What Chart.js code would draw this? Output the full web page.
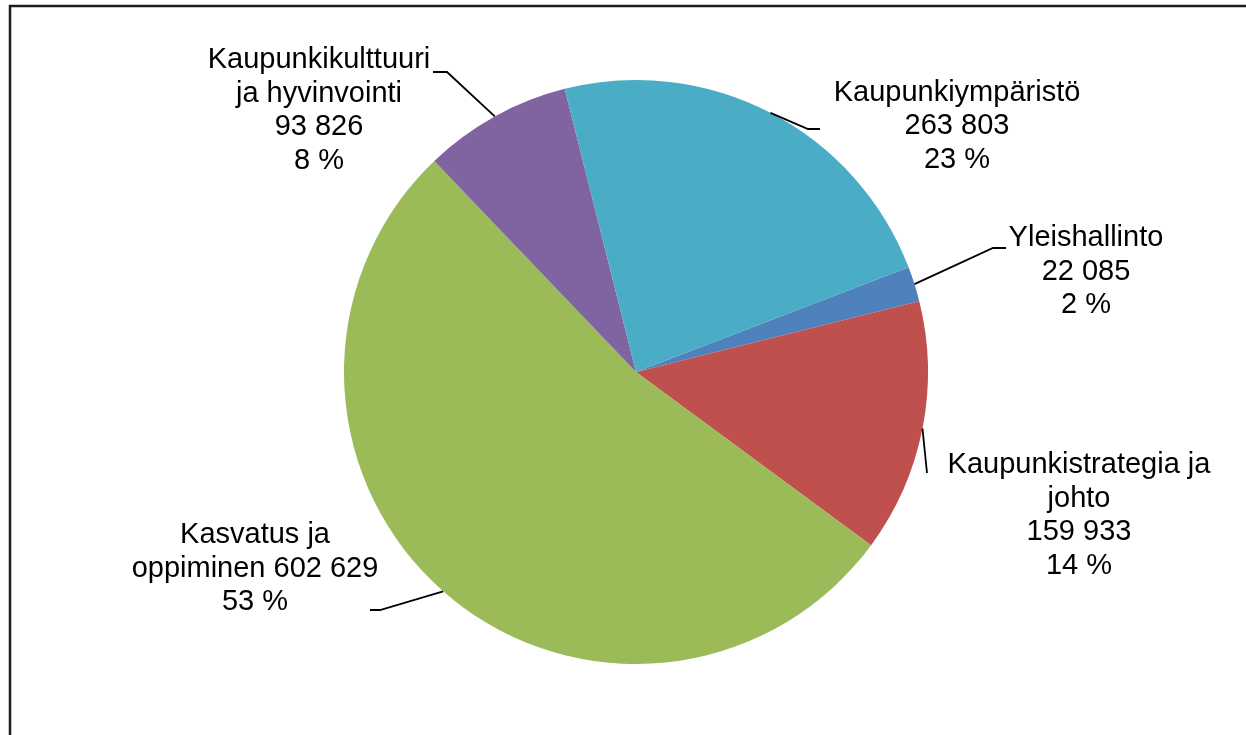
<!DOCTYPE html>
<html>
<head>
<meta charset="utf-8">
<script src="https://cdn.jsdelivr.net/npm/chart.js@4.4.1/dist/chart.umd.min.js"></script>
<style>
  html, body { margin: 0; padding: 0; background: #ffffff; }
  canvas { display: block; }
</style>
</head>
<body>
<canvas id="c" width="1246" height="735"></canvas>
<script>
// ---- Data ----
const categories = [
  'Yleishallinto',
  'Kaupunkistrategia ja johto',
  'Kasvatus ja oppiminen',
  'Kaupunkikulttuuri ja hyvinvointi',
  'Kaupunkiympäristö'
];
const values = [22085, 159933, 602629, 93826, 263803];
const colors = ['#4F81BD', '#C0504D', '#9BBB59', '#8064A2', '#4BACC6'];

// ---- Label layout (positions/styles only) ----
// breakAfter: word index after which the name wraps; joinValue: value on the last name line
const labelLayout = [
  { cx: 1086, cy: 238, breakAfter: null, joinValue: false, elbow: [993, 248], end: [1006, 248] },
  { cx: 1079, cy: 465, breakAfter: 2, joinValue: false, elbow: [927, 473], end: null },
  { cx: 255, cy: 535, breakAfter: 2, joinValue: true, elbow: [380, 610], end: [370, 610] },
  { cx: 319, cy: 60, breakAfter: 1, joinValue: false, elbow: [447, 72], end: [433, 72] },
  { cx: 957, cy: 92.5, breakAfter: null, joinValue: false, elbow: [808, 129], end: [820, 129] }
];
const FONT = '29px "Liberation Sans", Arial, sans-serif';
const LINE_H = 33.5;

function fmt(n) { return String(n).replace(/\B(?=(\d{3})+(?!\d))/g, ' '); }

const total = values.reduce((a, b) => a + b, 0);

function buildLines(i) {
  const words = categories[i].split(' ');
  const L = labelLayout[i];
  let nameLines;
  if (L.breakAfter == null) nameLines = [words.join(' ')];
  else nameLines = [words.slice(0, L.breakAfter).join(' '), words.slice(L.breakAfter).join(' ')];
  const valStr = fmt(values[i]);
  const pct = Math.round(values[i] / total * 100) + ' %';
  if (L.joinValue) {
    nameLines[nameLines.length - 1] += ' ' + valStr;
    return nameLines.concat([pct]);
  }
  return nameLines.concat([valStr, pct]);
}

const frame = {
  id: 'frame',
  beforeDraw(chart) {
    const ctx = chart.ctx;
    ctx.save();
    ctx.fillStyle = '#ffffff';
    ctx.fillRect(0, 0, chart.width, chart.height);
    ctx.strokeStyle = '#1c1c1c';
    ctx.lineWidth = 2.5;
    ctx.strokeRect(10, 6, 1400, 900);
    ctx.restore();
  }
};

const labels = {
  id: 'pieLabels',
  afterDraw(chart) {
    const ctx = chart.ctx;
    const meta = chart.getDatasetMeta(0);
    ctx.save();
    meta.data.forEach((arc, i) => {
      const L = labelLayout[i];
      const mid = (arc.startAngle + arc.endAngle) / 2;
      const sx = arc.x + arc.outerRadius * Math.cos(mid);
      const sy = arc.y + arc.outerRadius * Math.sin(mid);
      ctx.strokeStyle = '#000000';
      ctx.lineWidth = 1.8;
      ctx.beginPath();
      ctx.moveTo(sx, sy);
      ctx.lineTo(L.elbow[0], L.elbow[1]);
      if (L.end) ctx.lineTo(L.end[0], L.end[1]);
      ctx.stroke();

      ctx.fillStyle = '#000000';
      ctx.font = FONT;
      ctx.textAlign = 'center';
      ctx.textBaseline = 'middle';
      buildLines(i).forEach((t, k) => {
        ctx.fillText(t, L.cx, L.cy + k * LINE_H);
      });
    });
    ctx.restore();
  }
};

new Chart(document.getElementById('c'), {
  type: 'pie',
  data: {
    labels: categories,
    datasets: [{
      data: values,
      backgroundColor: colors,
      borderWidth: 0
    }]
  },
  options: {
    responsive: false,
    animation: false,
    rotation: 69.0,
    layout: { padding: { left: 344, right: 318, top: 80, bottom: 71 } },
    plugins: {
      legend: { display: false },
      tooltip: { enabled: false }
    }
  },
  plugins: [frame, labels]
});
</script>
</body>
</html>
